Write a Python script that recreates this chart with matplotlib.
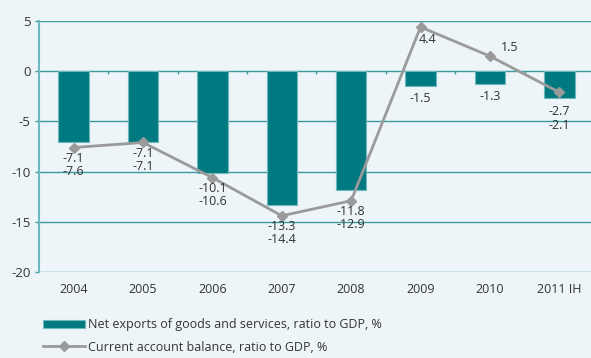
import matplotlib.pyplot as plt
import numpy as np

years = ["2004", "2005", "2006", "2007", "2008", "2009", "2010", "2011 IH"]
net_exports = [-7.1, -7.1, -10.1, -13.3, -11.8, -1.5, -1.3, -2.7]
current_account = [-7.6, -7.1, -10.6, -14.4, -12.9, 4.4, 1.5, -2.1]
y_ticks = [5, 0, -5, -10, -15, -20]

bg = "#edf5f8"
teal = "#007a80"
grid_c = "#3a9aa0"
grey = "#9a9a9a"
txt = "#333333"

plt.rcParams['font.family'] = ['Open Sans', 'DejaVu Sans']
plt.rcParams['axes.unicode_minus'] = False

fig = plt.figure(figsize=(5.91, 3.58), dpi=100, facecolor=bg)
ax = fig.add_axes([0.066, 0.2402, 0.939, 0.7011], facecolor=bg)

x = np.arange(len(years))

for y in y_ticks:
    ax.axhline(y, color=grid_c, lw=1, zorder=1)

bars = ax.bar(x, net_exports, width=0.44, color=teal, edgecolor="#6fb8bd", linewidth=0.8,
              zorder=2)
line, = ax.plot(x, current_account, color=grey, lw=2, marker="D", ms=5, zorder=3)

# small ticks on the zero line between categories
ax.vlines(x[:-1] + 0.5, 0, -0.3, color=grid_c, lw=1, zorder=1)

# value labels
for i, (b, c) in enumerate(zip(net_exports, current_account)):
    if c < 0:
        pad = -3 if i < len(years) - 1 else -5
        ax.annotate(f"{b:.1f}\n{c:.1f}", (i, min(b, c)), xytext=(0, pad),
                    textcoords="offset points", ha="center", va="top",
                    fontsize=9, color=txt, linespacing=1.05, zorder=4)
    else:
        ax.annotate(f"{b:.1f}", (i, b), xytext=(0, -4),
                    textcoords="offset points", ha="center", va="top",
                    fontsize=9, color=txt, zorder=4)
        off = (5, -9) if i == 5 else (14, 6)
        ax.annotate(f"{c:.1f}", (i, c), xytext=off,
                    textcoords="offset points", ha="center", va="center",
                    fontsize=9, color=txt, zorder=4)

ax.set_xlim(-0.5, len(years) - 0.5)
ax.set_ylim(-20, 5)
ax.set_yticks(y_ticks)
ax.set_xticks(x)
ax.set_xticklabels(years)
ax.tick_params(axis="x", length=0, pad=8, labelsize=9, labelcolor=txt)
ax.tick_params(axis="y", length=3, width=1, color=grid_c, pad=3, labelsize=9.5, labelcolor=txt)

for s in ["top", "right", "bottom"]:
    ax.spines[s].set_visible(False)
ax.spines["left"].set_color("#6fb8bd")
ax.spines["left"].set_linewidth(1.5)

fig.legend([bars, line],
           ["Net exports of goods and services, ratio to GDP, %",
            "Current account balance, ratio to GDP, %"],
           loc="upper left", bbox_to_anchor=(0.065, 0.125), frameon=False,
           fontsize=9, labelcolor=txt, handlelength=3.3, handleheight=0.6,
           labelspacing=0.75, borderaxespad=0, handletextpad=0.3)

fig.savefig("out.png", dpi=100, facecolor=bg)
